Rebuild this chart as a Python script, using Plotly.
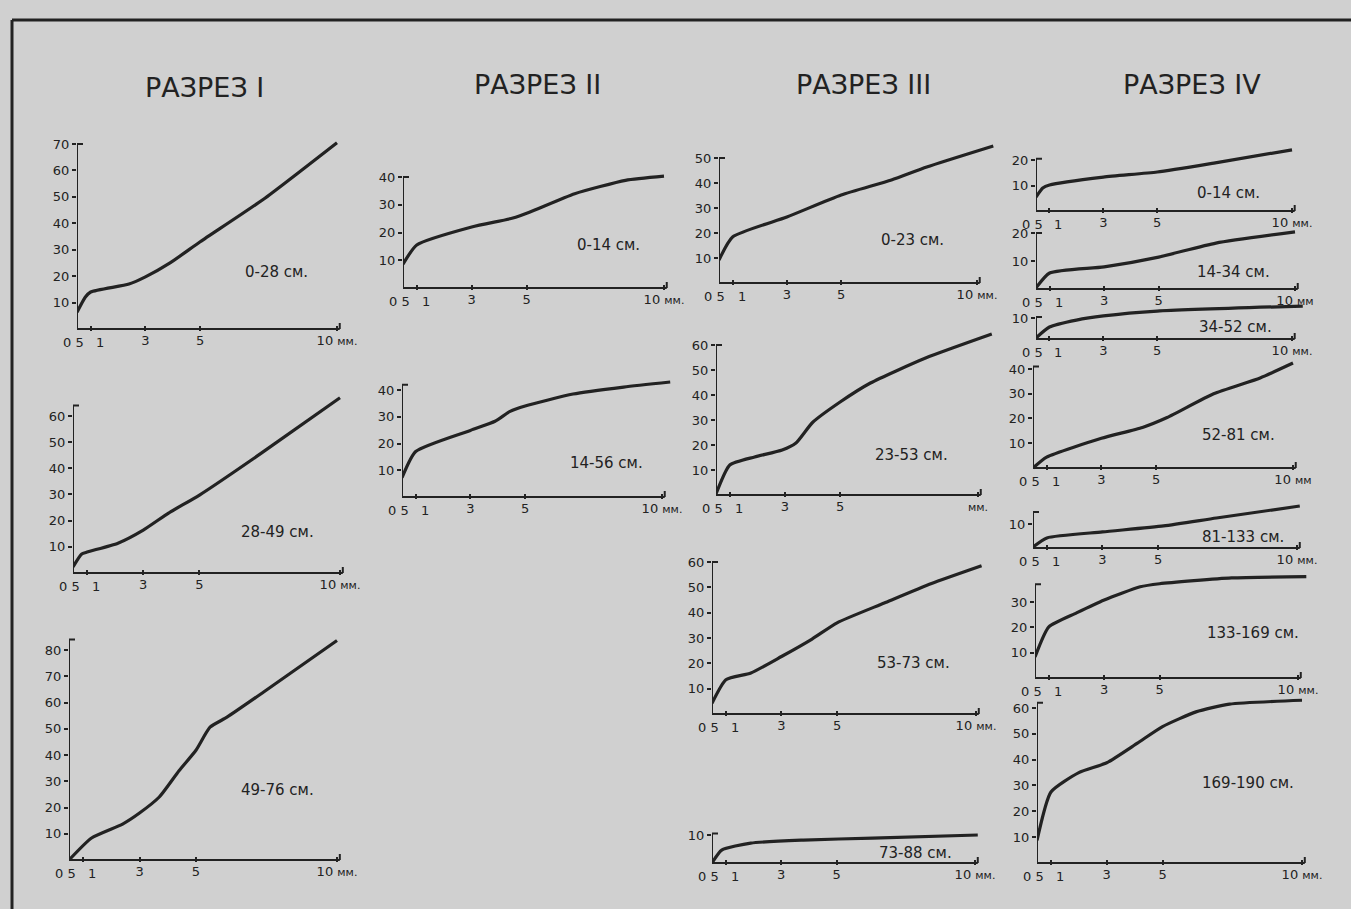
import plotly.graph_objects as go

W, H = 1351, 909
INK = "#222222"
PAPER = "#d0d0d0"
FONT = "DejaVu Sans"

# ---------------- data ----------------
section_titles = ["РАЗРЕЗ I", "РАЗРЕЗ II", "РАЗРЕЗ III", "РАЗРЕЗ IV"]
depth_labels = ["0-28 см.", "28-49 см.", "49-76 см.",
                "0-14 см.", "14-56 см.",
                "0-23 см.", "23-53 см.", "53-73 см.", "73-88 см.",
                "0-14 см.", "14-34 см.", "34-52 см.", "52-81 см.",
                "81-133 см.", "133-169 см.", "169-190 см."]
x_tick_mm = [0.5, 1, 3, 5, 10]
x_tick_text = ["0 5", "1", "3", "5", "10"]

# Разрез I
x_I_1 = [0.5, 0.8, 1, 2.4, 3, 3.9, 5, 7.3, 10]
y_I_1 = [6.3, 12, 14, 17, 19.7, 25, 33, 49, 70.5]
x_I_2 = [0.5, 0.8, 1, 2.1, 3, 3.9, 5, 7.2, 10]
y_I_2 = [2.3, 7.2, 8, 11.4, 16.4, 22.9, 29.8, 45.8, 67]
x_I_3 = [0.5, 1.3, 2.4, 3, 3.7, 4.4, 5, 5.5, 6.1, 7.4, 10]
y_I_3 = [0, 8.4, 13.7, 17.9, 24, 34, 41.8, 50.6, 54.4, 64, 83.6]
# Разрез II
x_II_1 = [0.5, 1, 3, 4.5, 5.1, 6.75, 8.6, 10]
y_II_1 = [8.6, 15.5, 22, 25.2, 27.3, 34, 38.8, 40.3]
x_II_2 = [0.5, 1, 3, 3.9, 4.45, 5, 6.75, 8.6, 10.3]
y_II_2 = [7.2, 17, 24.9, 28.3, 32, 34, 38.5, 41.1, 43]
# Разрез III
x_III_1 = [0.5, 1, 3, 5, 6.85, 8.15, 10.6]
y_III_1 = [9.2, 18.4, 26.4, 35.2, 41.2, 46.4, 54.8]
x_III_2 = [0.5, 1, 1.9, 2.9, 3.4, 4.0, 5, 6.1, 8.1, 10.5]
y_III_2 = [0.4, 12, 15.2, 18, 20.8, 29, 37.2, 44.8, 54.8, 64.4]
x_III_3 = [0.5, 1, 1.9, 3, 4.1, 5, 6.7, 8.4, 10.2]
y_III_3 = [4.2, 13.5, 16.2, 22.7, 29.6, 36, 43.8, 51.5, 58.5]
x_III_4 = [0.5, 0.85, 1.9, 3.8, 6.3, 10.1]
y_III_4 = [0, 4.6, 7.1, 8.2, 8.9, 10]
# Разрез IV
x_IV_1 = [0.5, 0.75, 1, 3, 5, 7.1, 10]
y_IV_1 = [5.5, 9, 10.2, 13.3, 15.3, 18.8, 24]
x_IV_2 = [0.5, 1, 3, 5, 7.1, 10]
y_IV_2 = [0.4, 5.7, 7.9, 11.4, 16.4, 20.4]
x_IV_3 = [0.5, 1, 2, 3, 5, 10.4]
y_IV_3 = [0.5, 5.7, 9, 11, 13.3, 15.7]
x_IV_4 = [0.5, 1, 3, 4.5, 5.4, 7.1, 8.8, 10]
y_IV_4 = [0, 4.4, 12, 16.4, 20.4, 30, 36.4, 42.4]
x_IV_5 = [0.5, 1, 3, 5.2, 7.1, 10.1]
y_IV_5 = [0.4, 4.2, 6.7, 9.2, 12.5, 17.5]
x_IV_6 = [0.5, 1, 2, 3, 4.3, 5, 7.6, 10.3]
y_IV_6 = [8.3, 20.2, 25.7, 30.8, 36, 37.2, 39.5, 40]
x_IV_7 = [0.5, 1, 2, 3, 4.1, 5, 6.2, 7.4, 10]
y_IV_7 = [8.7, 27.5, 35, 38.8, 46.4, 52.8, 58.5, 61.5, 63]

series = [(x_I_1, y_I_1), (x_I_2, y_I_2), (x_I_3, y_I_3),
          (x_II_1, y_II_1), (x_II_2, y_II_2),
          (x_III_1, y_III_1), (x_III_2, y_III_2), (x_III_3, y_III_3), (x_III_4, y_III_4),
          (x_IV_1, y_IV_1), (x_IV_2, y_IV_2), (x_IV_3, y_IV_3), (x_IV_4, y_IV_4),
          (x_IV_5, y_IV_5), (x_IV_6, y_IV_6), (x_IV_7, y_IV_7)]

y_tick_sets = [list(range(10, 80, 10)), list(range(10, 70, 10)), list(range(10, 90, 10)),
               [10, 20, 30, 40], [10, 20, 30, 40],
               [10, 20, 30, 40, 50], [10, 20, 30, 40, 50, 60], [10, 20, 30, 40, 50, 60], [10],
               [10, 20], [10, 20], [10], [10, 20, 30, 40],
               [10], [10, 20, 30], [10, 20, 30, 40, 50, 60]]
y_axis_top = [70, 64, 84, 40, 42, 50, 60, 60, 10.5, 20.5, 20, 10.5, 41, 15, 37, 62]
unit_text = ["мм.", "мм.", "мм.", "мм.", "мм.", "мм.", "мм.", "мм.", "мм.",
             "мм.", "мм", "мм.", "мм", "мм.", "мм.", "мм."]

# ---------------- layout geometry (pixels) ----------------
# x0: px of 0.5 mm, x10: px of 10 mm, y0: px of value 0, (ref_val, ref_px) for y scale
geom = [
    (77, 337, 329, 70, 144), (73, 340, 573, 60, 416), (69, 337, 860, 80, 650),
    (403, 664, 288, 40, 177), (402, 662, 497, 40, 390),
    (719, 977, 283, 50, 158), (716, 978, 495, 60, 345), (712, 976, 714, 60, 562), (712, 975, 863, 10, 835),
    (1036, 1292, 211, 20, 160), (1036, 1295, 289, 20, 233), (1036, 1292, 339, 10, 318),
    (1033, 1293, 468, 40, 369), (1033, 1297, 548, 10, 524), (1035, 1298, 678, 30, 602),
    (1037, 1302, 863, 60, 708),
]
label_pos = [(276, 272), (277, 532), (277, 790), (608, 245), (606, 463),
             (912, 240), (911, 455), (913, 663), (915, 853),
             (1228, 193), (1233, 272), (1235, 327), (1238, 435), (1243, 537),
             (1253, 633), (1248, 783)]
title_pos = [(204, 87), (537, 85), (864, 84), (1192, 85)]

XMAX = 10.7
fig = go.Figure()
layout = {}
shapes = []
annotations = []
tick_font = dict(size=13, color=INK, family=FONT)

for i, ((xs, ys), g) in enumerate(zip(series, geom), start=1):
    x0, x10, y0, rv, rp = g
    ppm = (x10 - x0) / 9.5
    scale = (y0 - rp) / rv
    top = max(y_axis_top[i - 1], max(ys)) + 1.0
    ylo = -2.0 / scale
    suffix = "" if i == 1 else str(i)
    xref, yref = "x" + suffix, "y" + suffix
    fig.add_trace(go.Scatter(x=xs, y=ys, mode="lines", xaxis=xref, yaxis=yref,
                             line=dict(color=INK, width=3.2, shape="spline", smoothing=0.55),
                             showlegend=False, hoverinfo="skip"))
    unit = "<span style='font-size:11px'>%s</span>" % unit_text[i - 1]
    last = x_tick_text[4] + " " + unit if i != 7 else unit
    tt = ["", "", x_tick_text[2], x_tick_text[3], last]
    layout["xaxis" + suffix] = dict(
        domain=[x0 / W, (x0 + (XMAX - 0.5) * ppm) / W], range=[0.5, XMAX],
        anchor=yref, tickvals=x_tick_mm, ticktext=tt, ticks="inside", ticklen=5,
        tickwidth=2, tickcolor=INK, showline=False, showgrid=False, zeroline=False,
        tickangle=0, tickfont=tick_font, fixedrange=True, automargin=False)
    layout["yaxis" + suffix] = dict(
        domain=[1 - (y0 - ylo * scale) / H, 1 - (y0 - top * scale) / H], range=[ylo, top],
        anchor=xref, tickvals=y_tick_sets[i - 1], ticks="outside", ticklen=4, tickwidth=2,
        tickcolor=INK, showline=False, showgrid=False, zeroline=False,
        tickfont=tick_font, fixedrange=True, automargin=False)
    # first two x tick labels, nudged apart as in the drawing
    annotations.append(dict(x=x_tick_mm[0], y=0, xref=xref, yref=yref, text=x_tick_text[0],
                            showarrow=False, xanchor="center", yanchor="top", xshift=-4,
                            yshift=-4, font=tick_font))
    annotations.append(dict(x=x_tick_mm[1], y=0, xref=xref, yref=yref, text=x_tick_text[1],
                            showarrow=False, xanchor="center", yanchor="top", xshift=9,
                            yshift=-4, font=tick_font))
    # axis lines
    shapes.append(dict(type="line", xref=xref, yref=yref, x0=0.5, x1=10.1, y0=0, y1=0,
                       line=dict(color=INK, width=2)))
    shapes.append(dict(type="line", xref=xref, yref=yref, x0=10.1, x1=10.1, y0=0, y1=6 / scale,
                       line=dict(color=INK, width=2)))
    yt = y_axis_top[i - 1]
    shapes.append(dict(type="line", xref=xref, yref=yref, x0=0.5, x1=0.5, y0=0, y1=yt,
                       line=dict(color=INK, width=2)))
    shapes.append(dict(type="line", xref=xref, yref=yref, x0=0.5, x1=0.5 + 6 / ppm, y0=yt, y1=yt,
                       line=dict(color=INK, width=2)))
    cx, cy = label_pos[i - 1]
    annotations.append(dict(x=cx / W, y=1 - cy / H, xref="paper", yref="paper",
                            text=depth_labels[i - 1], showarrow=False, xanchor="center",
                            yanchor="middle", font=dict(size=15, color=INK, family=FONT)))

for t, (cx, cy) in zip(section_titles, title_pos):
    annotations.append(dict(x=cx / W, y=1 - cy / H, xref="paper", yref="paper", text=t,
                            showarrow=False, xanchor="center", yanchor="middle",
                            font=dict(size=27, color=INK, family=FONT)))

# sheet frame
shapes.append(dict(type="line", xref="paper", yref="paper", x0=12 / W, x1=12 / W,
                   y0=0, y1=1 - 20 / H, line=dict(color=INK, width=3)))
shapes.append(dict(type="line", xref="paper", yref="paper", x0=12 / W, x1=1,
                   y0=1 - 20 / H, y1=1 - 20 / H, line=dict(color=INK, width=3)))

fig.update_layout(template="none", width=W, height=H, margin=dict(l=0, r=0, t=0, b=0, pad=0),
                  paper_bgcolor=PAPER, plot_bgcolor="rgba(0,0,0,0)", showlegend=False,
                  shapes=shapes, annotations=annotations, **layout)
fig.write_html("out.html", config={"displayModeBar": False},
               post_script="document.body.style.margin='0';document.body.style.overflow='hidden';")
